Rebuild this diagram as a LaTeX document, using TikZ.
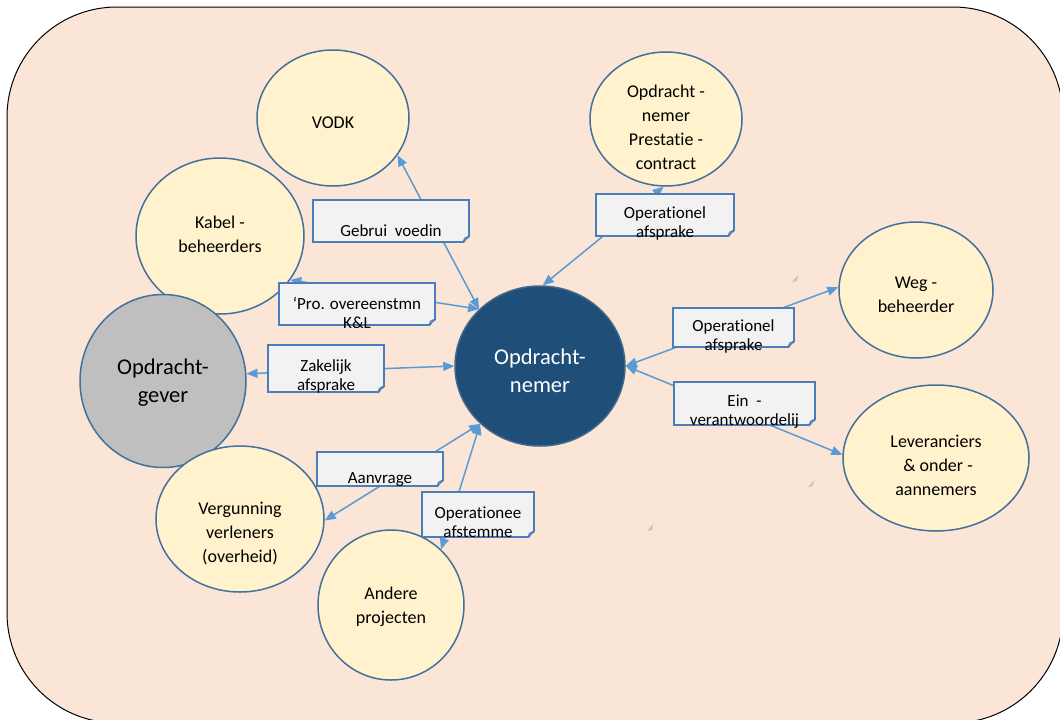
\documentclass[tikz,border=0pt]{standalone}
\usepackage{fontspec}
\setmainfont{Carlito}[Ligatures=NoCommon]
\usetikzlibrary{shapes.geometric,arrows.meta,backgrounds}
\definecolor{peach}{HTML}{FBE5D6}
\definecolor{ovalfill}{HTML}{FFF2CC}
\definecolor{ovalline}{HTML}{41719C}
\definecolor{gevergray}{HTML}{BFBFBF}
\definecolor{nemerblue}{HTML}{1F4E79}
\definecolor{notefill}{HTML}{F2F2F2}
\definecolor{noteline}{HTML}{4A7EBB}
\definecolor{foldc}{HTML}{C4CAD3}
\definecolor{linkblue}{HTML}{5B9BD5}
% folded corner of a note box
\newcommand{\fold}[1]{\fill[peach] ([xshift=-7pt,yshift=-1.5pt]#1.south east) -- ([xshift=1.5pt,yshift=-1.5pt]#1.south east) -- ([xshift=1.5pt,yshift=7pt]#1.south east) -- cycle;
  \filldraw[draw=noteline,fill=foldc,line width=1pt,line join=round] ([xshift=-7pt]#1.south east) -- ([yshift=7pt]#1.south east) -- ([xshift=-5pt,yshift=4.5pt]#1.south east) -- cycle;}

\tikzset{
  textdrop/.style={text height=#1, text depth=0pt},% last baseline sits #1/2 below the centre
  oval/.style={ellipse, draw=ovalline, line width=1.5pt, fill=ovalfill, inner sep=-40pt, align=center, font=\fontsize{18}{24}\selectfont},
  bigoval/.style={oval, font=\fontsize{22.5}{28}\selectfont},
  notebox/.style={rectangle, draw=noteline, line width=1.3pt, fill=notefill, inner xsep=0pt, inner ysep=-30pt, align=center, font=\fontsize{17}{19}\selectfont},
  relation/.style={draw=linkblue, line width=1.5pt, >={Triangle[length=11pt,width=9pt]}, <->},
}

\begin{document}
\begin{tikzpicture}[x=1pt,y=-1pt]
  \useasboundingbox (0,0) rectangle (1060,720);
  \begin{pgfonlayer}{background}
    \draw[fill=peach, line width=1pt, rounded corners=110pt] (7,7) rectangle (1063,723);
  \end{pgfonlayer}

  % partners
  \node[oval, minimum width=152pt, minimum height=136pt, textdrop=20pt] (vodk) at (333,118) {VODK};
  \node[oval, minimum width=152pt, minimum height=134pt, textdrop=100pt] (prest) at (666,119) {Opdracht -\\nemer\\Prestatie -\\contract};
  \node[oval, minimum width=168pt, minimum height=156pt, textdrop=32pt] (kabel) at (220,236) {Kabel -\\beheerders};
  \node[bigoval, fill=gevergray, minimum width=166pt, minimum height=173pt, textdrop=42pt] (gever) at (163,381) {Opdracht-\\gever};
  \node[bigoval, fill=nemerblue, draw=nemerblue!85!white, text=white, minimum width=170pt, minimum height=160pt, textdrop=52pt] (nemer) at (540,366) {Opdracht-\\nemer};
  \node[oval, minimum width=154pt, minimum height=136pt, textdrop=44pt] (weg) at (916,290) {Weg -\\beheerder};
  \node[oval, minimum width=186pt, minimum height=146pt, textdrop=74pt] (lev) at (936,458) {Leveranciers\\\ \& onder -\\aannemers};
  \node[oval, minimum width=168pt, minimum height=146pt, textdrop=86pt] (verg) at (240,519) {Vergunning\\verleners\\(overheid)};
  \node[oval, minimum width=146pt, minimum height=150pt, textdrop=36pt] (andere) at (391,605) {Andere\\projecten};

  % agreements
  \node[notebox, minimum width=156pt, minimum height=42pt, textdrop=30pt] (gebrui) at (391,221) {Gebrui\ \ voedin};
  \node[notebox, minimum width=156pt, minimum height=42pt, textdrop=48pt] (pro) at (357,304) {‘Pro. overeenstmn\\K\&L};
  \node[notebox, minimum width=138pt, minimum height=42pt, textdrop=44pt] (optop) at (665,215) {Operationel\\afsprake};
  \node[notebox, minimum width=121pt, minimum height=39pt, textdrop=45pt] (opright) at (733.5,327.5) {Operationel\\afsprake};
  \node[notebox, minimum width=141pt, minimum height=43pt, textdrop=43pt] (ein) at (744.5,403.5) {Ein\ \ -\\verantwoordelij};
  \node[notebox, minimum width=126pt, minimum height=34pt, textdrop=28pt] (aanvrage) at (380,469) {Aanvrage};
  \node[notebox, minimum width=112pt, minimum height=45pt, textdrop=45pt] (afstem) at (478,514.5) {Operationee\\afstemme};
  \node[notebox, minimum width=116pt, minimum height=47pt, textdrop=44pt] (zakelijk) at (326,368.5) {Zakelijk\\afsprake};
  \foreach \n in {gebrui,pro,optop,opright,ein,aanvrage,afstem,zakelijk} {\fold{\n}}

  % stray marks
  \fill[gray!45] (792,282) -- (798,275) -- (797,281) -- cycle;
  \fill[gray!45] (808,487) -- (814,480) -- (813,486) -- cycle;
  \fill[gray!45] (647,531) -- (653,524) -- (652,530) -- cycle;

  \begin{pgfonlayer}{background}
    \draw[relation] (vodk.-30) -- (nemer.137);
    \draw[relation] (kabel.-32) -- (nemer.137);
    \draw[relation] (prest.-92) -- (nemer.88);
    \draw[relation] (weg.178) -- (nemer.0);
    \draw[relation] (lev.178) -- (nemer.0);
    \draw[relation] (gever.5) -- (nemer.180);
    \draw[relation] (verg.-1) -- (nemer.224);
    \draw[relation] (andere.48) -- (nemer.224);
  \end{pgfonlayer}
\end{tikzpicture}
\end{document}
